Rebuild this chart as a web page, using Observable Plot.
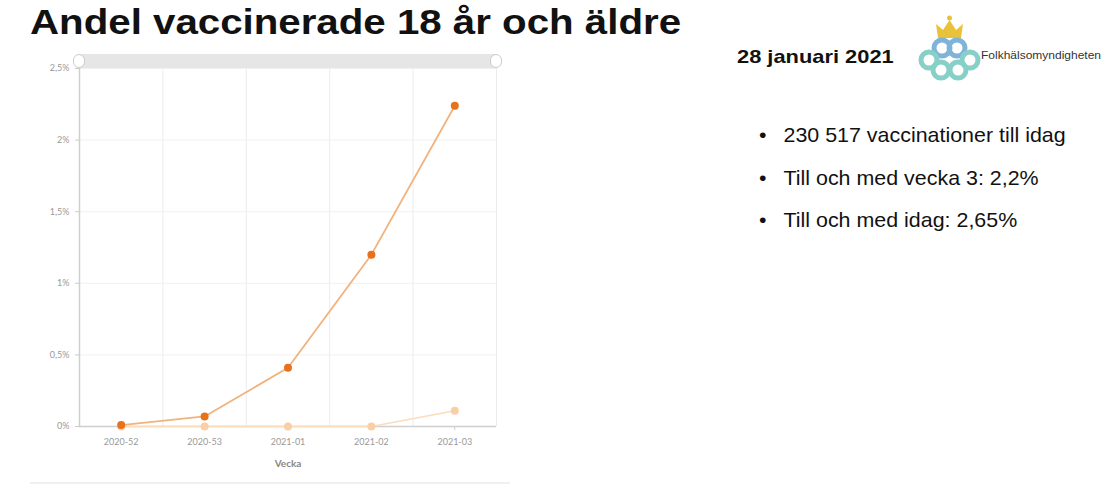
<!DOCTYPE html>
<html><head><meta charset="utf-8">
<script src="https://cdn.jsdelivr.net/npm/d3@7"></script>
<script src="https://cdn.jsdelivr.net/npm/@observablehq/plot@0.6"></script>
<style>
html,body{margin:0;padding:0;background:#fff;width:1105px;height:496px;overflow:hidden;font-family:"Liberation Sans",Arial,sans-serif;}
.stretch{transform-origin:0 0;transform:scaleX(1.15);}
#title{position:absolute;left:30px;top:2px;font-size:35px;font-weight:bold;color:#111;white-space:nowrap;}
#chart{position:absolute;left:0;top:50px;}
#slider{position:absolute;left:79px;top:54px;width:417px;height:14px;background:#e6e6e6;}
.handle{position:absolute;top:54px;width:12px;height:14px;border-radius:7px;background:#fff;border:1px solid #ccc;box-sizing:border-box;}
#sep{position:absolute;left:30px;top:482px;width:480px;height:2px;background:#f0f0f0;}
#date{position:absolute;left:737px;top:46px;font-size:19px;font-weight:bold;color:#111;white-space:nowrap;}
#logo{position:absolute;left:915px;top:14px;}
#bullets{position:absolute;left:759px;top:123px;margin:0;padding:0;list-style:none;font-size:21px;color:#111;transform-origin:0 0;transform:scaleX(1.02);}
#bullets li{height:42.5px;white-space:nowrap;}
#bullets li::before{content:"•";display:inline-block;width:24px;}
</style></head><body>
<div id="title" class="stretch">Andel vaccinerade 18 år och äldre</div>
<div id="chart"></div>
<div id="slider"></div>
<div class="handle" style="left:73px"></div>
<div class="handle" style="left:490px"></div>
<div id="sep"></div>
<div id="date" class="stretch">28 januari 2021</div>
<svg id="logo" width="190" height="68" viewBox="0 0 190 68">
  <g fill="#e8c23a"><path d="M23 24 L21 10 L28 16 L34.5 6 L41 16 L48 10 L46 24 Z"/><circle cx="34.5" cy="4" r="2.5"/></g>
  <g fill="none" stroke="#7fb3d8" stroke-width="5"><circle cx="27" cy="34" r="8"/><circle cx="42" cy="34" r="8"/></g>
  <g fill="none" stroke="#86d0c8" stroke-width="5"><circle cx="14" cy="46" r="8"/><circle cx="55" cy="46" r="8"/><circle cx="26" cy="56" r="8"/><circle cx="43" cy="56" r="8"/></g>
  <text x="66" y="45" font-size="11" fill="#333" font-family="Liberation Sans, Arial" textLength="120" lengthAdjust="spacingAndGlyphs">Folkhälsomyndigheten</text>
</svg>
<ul id="bullets">
<li>230 517 vaccinationer till idag</li>
<li>Till och med vecka 3: 2,2%</li>
<li>Till och med idag: 2,65%</li>
</ul>
<script>
const weeks = ["2020-52","2020-53","2021-01","2021-02","2021-03"];
const doseOne = [0.01, 0.07, 0.41, 1.20, 2.24];
const doseTwo = [0.00, 0.00, 0.00, 0.00, 0.11];
const yTicks = [0, 0.5, 1, 1.5, 2, 2.5];
const yLabels = ["0%", "0,5%", "1%", "1,5%", "2%", "2,5%"];

const s1 = weeks.map((w, i) => ({i, v: doseOne[i]}));
const s2 = weeks.map((w, i) => ({i, v: doseTwo[i]}));
const bounds = weeks.map((w, i) => i - 0.5).concat([weeks.length - 0.5]);

const plot = Plot.plot({
  width: 520, height: 440,
  marginLeft: 79, marginRight: 24, marginTop: 18, marginBottom: 64,
  style: {background: "transparent", fontFamily: "Lato, 'Liberation Sans', sans-serif", fontSize: "9px", color: "#999"},
  x: {type: "linear", domain: [-0.5, weeks.length - 0.5], ticks: weeks.map((w, i) => i), tickFormat: i => weeks[i], tickSize: 4, tickPadding: 8, label: null},
  y: {domain: [0, 2.5], ticks: yTicks, tickFormat: v => yLabels[yTicks.indexOf(v)], tickSize: 4, tickPadding: 6, label: null},
  marks: [
    Plot.ruleX(bounds.slice(1), {stroke: "#ececec", strokeWidth: 1}),
    Plot.ruleY(yTicks.slice(1), {stroke: "#f0f0f0", strokeWidth: 1}),
    Plot.ruleX([bounds[0]], {stroke: "#cfcfcf", strokeWidth: 1.5}),
    Plot.ruleY([0], {stroke: "#cfcfcf", strokeWidth: 1.5}),
    Plot.line(s2, {x: "i", y: "v", stroke: "#fbdcbc", strokeWidth: 1.5}),
    Plot.line(s1, {x: "i", y: "v", stroke: "#f2b27c", strokeWidth: 1.8}),
    Plot.dot(s2, {x: "i", y: "v", r: 4, fill: "#f8cfa6"}),
    Plot.dot(s1, {x: "i", y: "v", r: 4, fill: "#e8711c"}),
    Plot.text(["Vecka"], {frameAnchor: "bottom", dy: 40, text: d => d, fontWeight: "bold", fontSize: 10, fill: "#888"})
  ]
});
plot.querySelectorAll("[aria-label='x-axis tick'], [aria-label='y-axis tick']").forEach(g => g.setAttribute("stroke", "#ccc"));
document.getElementById("chart").appendChild(plot);
</script>
</body></html>
